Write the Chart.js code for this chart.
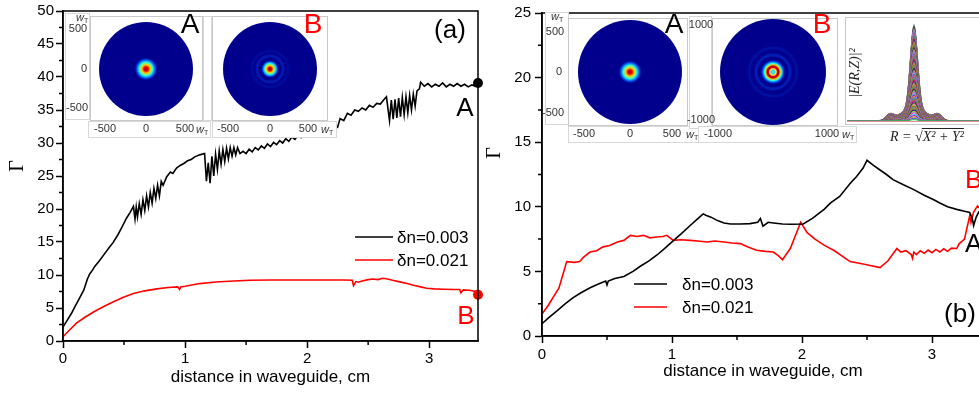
<!DOCTYPE html>
<html>
<head>
<meta charset="utf-8">
<title>Gamma vs distance in waveguide</title>
<script src="https://cdn.jsdelivr.net/npm/chart.js@4.4.1/dist/chart.umd.min.js"></script>
<style>
  html, body { margin: 0; padding: 0; background: #fff; }
  body { width: 979px; height: 393px; overflow: hidden; position: relative; }
  #panelA { position: absolute; left: 0; top: 0; }
  #panelB { position: absolute; left: 484px; top: 0; }
</style>
</head>
<body>
<canvas id="panelA" width="484" height="393"></canvas>
<canvas id="panelB" width="520" height="393"></canvas>
<script>
"use strict";

// Series labels and ticks
var seriesLabels = ["δn=0.003", "δn=0.021"];
var xTicks = [0, 1, 2, 3];
var xMinor = [0.5, 1.5, 2.5];
var yTicksA = [0, 5, 10, 15, 20, 25, 30, 35, 40, 45, 50];
var yMinorA = [2.5, 7.5, 12.5, 17.5, 22.5, 27.5, 32.5, 37.5, 42.5, 47.5];
var yTicksB = [0, 5, 10, 15, 20, 25];
var yMinorB = [2.5, 7.5, 12.5, 17.5, 22.5];

// Panel (a), dn = 0.003
var distA1 = [0, 0.03, 0.07, 0.10, 0.13, 0.17, 0.20, 0.22, 0.24, 0.26, 0.30, 0.34, 0.38, 0.41, 0.45, 0.49, 0.52, 0.55, 0.577, 0.59,
  0.60, 0.61, 0.625, 0.64, 0.655, 0.67, 0.685, 0.70, 0.715, 0.73, 0.745, 0.76, 0.775, 0.79, 0.805, 0.82,
  0.85, 0.88, 0.90, 0.93, 0.96, 0.99, 1.02, 1.05, 1.08, 1.12, 1.16,
  1.175, 1.19, 1.205, 1.22, 1.235, 1.25, 1.265, 1.28, 1.295, 1.31, 1.325, 1.34, 1.355, 1.37, 1.385, 1.40, 1.415, 1.43, 1.45,
  1.475, 1.50, 1.525, 1.55, 1.575, 1.60, 1.625, 1.65, 1.675, 1.70, 1.725, 1.75, 1.775, 1.80, 1.825, 1.85,
  1.875, 1.90, 1.925, 1.95, 1.975, 2.00, 2.025, 2.05, 2.075, 2.10, 2.125, 2.15, 2.175, 2.20, 2.225, 2.25,
  2.27, 2.30, 2.33, 2.36, 2.39, 2.42, 2.45, 2.48, 2.51, 2.54, 2.57, 2.60, 2.63, 2.65,
  2.675, 2.69, 2.705, 2.72, 2.735, 2.75, 2.765, 2.78, 2.795, 2.81, 2.825, 2.84, 2.855, 2.87, 2.885, 2.90, 2.92, 2.93,
  2.96, 2.99, 3.02, 3.05, 3.08, 3.11, 3.14, 3.17, 3.20, 3.23, 3.26, 3.29, 3.32, 3.35, 3.38, 3.40];
var gammaA1 = [2.1, 3.0, 4.2, 5.3, 6.3, 7.7, 9.4, 10.2, 10.7, 11.3, 12.2, 13.2, 14.2, 14.9, 16.1, 17.5, 18.6, 19.5, 20.4, 18.5,
  20.3, 18.8, 20.8, 19.2, 21.4, 19.8, 22.0, 20.3, 22.5, 20.9, 23.1, 21.6, 23.6, 22.0, 24.2, 23.6,
  24.9, 25.6, 25.4, 26.2, 26.6, 26.9, 27.3, 27.5, 27.9, 28.2, 28.4,
  24.2, 27.0, 23.9, 28.0, 25.0, 28.3, 26.0, 28.8, 26.8, 29.0, 27.2, 29.2, 27.6, 29.3, 28.0, 29.3, 28.2, 29.3, 28.4,
  28.75, 28.4, 29.05, 28.65, 29.3, 28.95, 29.55, 29.2, 29.85, 29.45, 30.1, 29.75, 30.35, 30.0, 30.65, 30.25,
  30.9, 30.55, 31.15, 30.8, 31.45, 31.05, 31.7, 31.35, 31.95, 31.6, 32.25, 31.85, 32.5, 32.15, 32.75, 32.4,
  33.7, 33.4, 34.5, 34.2, 35.0, 34.8, 35.3, 35.0, 35.7, 35.4, 36.0, 35.9, 36.6, 37.0,
  33.4, 36.5, 33.6, 36.6, 33.8, 36.8, 34.0, 36.9, 34.3, 37.0, 34.6, 37.2, 35.0, 37.4, 35.6, 37.9, 38.2, 39.2,
  38.6, 39.0, 38.5, 38.9, 38.6, 39.1, 38.5, 38.9, 38.6, 39.0, 38.6, 38.9, 38.5, 38.8, 38.6, 39.1];

// Panel (a), dn = 0.021
var distA2 = [0, 0.05, 0.11, 0.18, 0.25, 0.33, 0.41, 0.49, 0.577, 0.67, 0.77, 0.86, 0.94, 0.955, 0.965, 1.0, 1.12, 1.25, 1.4, 1.53,
  1.7, 1.9, 2.1, 2.3, 2.37, 2.38, 2.40, 2.42, 2.45, 2.50, 2.54, 2.58, 2.62, 2.66, 2.70, 2.75, 2.82, 2.88, 2.93, 2.98,
  3.04, 3.12, 3.20, 3.25, 3.26, 3.28, 3.33, 3.38, 3.40];
var gammaA2 = [0.65, 1.6, 2.7, 3.6, 4.4, 5.2, 5.9, 6.6, 7.2, 7.6, 7.9, 8.1, 8.2, 7.8, 8.2, 8.3, 8.7, 8.95, 9.1, 9.2,
  9.25, 9.25, 9.25, 9.25, 9.2, 8.4, 9.0, 8.9, 9.1, 9.3, 9.4, 9.3, 9.5, 9.4, 9.2, 9.0, 8.7, 8.4, 8.2, 8.0,
  7.9, 7.85, 7.8, 7.8, 7.3, 7.75, 7.7, 7.5, 7.0];

// Panel (b), dn = 0.003
var distB1 = [0, 0.05, 0.115, 0.18, 0.24, 0.30, 0.37, 0.43, 0.49, 0.50, 0.51, 0.56, 0.63, 0.70, 0.756, 0.82, 0.885, 0.94, 1.0, 1.07,
  1.14, 1.19, 1.24, 1.26, 1.30, 1.35, 1.40, 1.45, 1.53, 1.60, 1.66, 1.68, 1.70, 1.74, 1.78, 1.85, 1.92, 2.01, 2.08, 2.17,
  2.22, 2.29, 2.37, 2.42, 2.47, 2.50, 2.55, 2.60, 2.65, 2.70, 2.78, 2.86, 2.94, 3.01, 3.06, 3.12, 3.19, 3.25, 3.29, 3.31,
  3.32, 3.34, 3.36, 3.40];
var gammaB1 = [0.95, 1.4, 1.95, 2.5, 2.97, 3.35, 3.73, 4.0, 4.25, 3.95, 4.25, 4.45, 4.6, 5.0, 5.4, 5.8, 6.27, 6.75, 7.28, 7.9,
  8.55, 9.0, 9.45, 9.35, 9.2, 8.93, 8.75, 8.67, 8.67, 8.7, 8.8, 9.1, 8.5, 8.8, 8.75, 8.67, 8.65, 8.67, 9.1, 9.8,
  10.3, 10.8, 11.8, 12.35, 13.0, 13.6, 13.2, 12.85, 12.5, 12.1, 11.7, 11.33, 10.9, 10.57, 10.3, 10.0, 9.8, 9.65, 9.56, 9.1,
  8.55, 9.2, 9.6, 9.8];

// Panel (b), dn = 0.021
var distB2 = [0, 0.05, 0.115, 0.13, 0.19, 0.25, 0.29, 0.32, 0.37, 0.42, 0.47, 0.52, 0.58, 0.63, 0.68, 0.73, 0.78, 0.83, 0.88, 0.93,
  0.96, 1.01, 1.07, 1.14, 1.2, 1.27, 1.33, 1.4, 1.46, 1.525, 1.58, 1.65, 1.72, 1.78, 1.82, 1.85, 1.91, 1.99, 2.04, 2.10,
  2.17, 2.25, 2.37, 2.48, 2.60, 2.66, 2.73, 2.76, 2.80, 2.84, 2.85, 2.86, 2.88, 2.91, 2.94, 2.97, 3.00, 3.03, 3.06, 3.09,
  3.12, 3.15, 3.19, 3.21, 3.25, 3.29, 3.30, 3.32, 3.35, 3.38, 3.40];
var gammaB2 = [1.7, 2.4, 3.47, 3.7, 5.76, 5.7, 5.76, 6.1, 6.5, 6.6, 6.9, 7.0, 7.28, 7.4, 7.79, 7.7, 7.79, 7.6, 7.66, 7.7,
  7.79, 7.4, 7.45, 7.4, 7.35, 7.28, 7.35, 7.28, 7.2, 7.15, 6.9, 6.64, 6.55, 6.5, 6.2, 5.9, 6.77, 8.8, 8.0, 7.5,
  7.03, 6.6, 5.76, 5.55, 5.3, 5.8, 6.77, 6.5, 6.6, 6.3, 6.0, 6.5, 6.3, 6.6, 6.4, 6.65, 6.45, 6.7, 6.5, 6.75,
  6.55, 6.8, 6.77, 7.15, 7.5, 9.3, 8.8, 9.6, 10.07, 9.8, 10.2];

Chart.defaults.font.family = '"Liberation Sans", Arial, sans-serif';
Chart.defaults.color = "#000";

function toPoints(xs, ys) {
  return xs.map(function (x, i) { return { x: x, y: ys[i] }; });
}

var SANS = '"Liberation Sans", Arial, sans-serif';
var SERIF = '"Liberation Serif", "Times New Roman", serif';

// subscripted w_T label used in the insets
function wT(ctx, x, y) {
  ctx.textAlign = "left";
  ctx.font = "italic 11px " + SANS;
  ctx.fillText("w", x - 6, y);
  ctx.font = "7px " + SANS;
  ctx.fillText("T", x + 2, y + 3);
}

// jet-like intensity disk
var DISK_STOPS = {
  a: [12, [[0, "#8a0000"], [0.18, "#f00000"], [0.36, "#ffd200"], [0.55, "#30ffd0"], [0.75, "#0060ff"], [1, "rgba(0,0,140,0)"]]],
  b: [9, [[0, "#8a0000"], [0.2, "#f00000"], [0.4, "#ffd200"], [0.6, "#30ffd0"], [0.8, "#0060ff"], [1, "rgba(0,0,140,0)"]]],
  c: [13, [[0, "#70f0ff"], [0.14, "#20c8ff"], [0.24, "#ffff40"], [0.34, "#e00000"], [0.46, "#b00000"], [0.55, "#ffc000"],
           [0.66, "#30ffd0"], [0.8, "#0050ff"], [1, "rgba(0,0,140,0)"]]]
};

function drawDisk(ctx, cx, cy, r, kind) {
  ctx.save();
  ctx.beginPath();
  ctx.arc(cx, cy, r, 0, Math.PI * 2);
  ctx.fillStyle = "#00008c";
  ctx.fill();
  ctx.clip();
  if (kind !== "a") {
    // faint outer rings
    var rings = kind === "c" ? [[17, 0.35], [24, 0.16]] : [[13, 0.3], [18, 0.12]];
    rings.forEach(function (rg) {
      ctx.beginPath();
      ctx.arc(cx, cy, rg[0], 0, Math.PI * 2);
      ctx.strokeStyle = "rgba(0,80,255," + rg[1] + ")";
      ctx.lineWidth = 3;
      ctx.stroke();
    });
  }
  var d = DISK_STOPS[kind];
  var g = ctx.createRadialGradient(cx, cy, 0, cx, cy, d[0]);
  d[1].forEach(function (s) { g.addColorStop(s[0], s[1]); });
  ctx.fillStyle = g;
  ctx.beginPath();
  ctx.arc(cx, cy, d[0], 0, Math.PI * 2);
  ctx.fill();
  ctx.restore();
}

function drawInset(ctx, p) {
  ctx.lineWidth = 1;
  ctx.strokeStyle = "#d8d8d8";
  ctx.fillStyle = "#fff";
  p.boxes.forEach(function (b) {
    ctx.fillRect(b[0], b[1], b[2], b[3]);
    ctx.strokeRect(b[0] + 0.5, b[1] + 0.5, b[2], b[3]);
  });
  var f = p.frame;
  ctx.fillStyle = "#fff";
  ctx.fillRect(f[0], f[1], f[2] - f[0], f[3] - f[1]);
  ctx.strokeStyle = "#c8c8c8";
  ctx.strokeRect(f[0] + 0.5, f[1] + 0.5, f[2] - f[0], f[3] - f[1]);
  if (p.disk) drawDisk(ctx, p.disk[0], p.disk[1], p.disk[2], p.kind);
  ctx.fillStyle = "#333";
  ctx.textBaseline = "middle";
  p.labels.forEach(function (l) {
    ctx.textAlign = "center";
    ctx.font = "11px " + SANS;
    ctx.fillText(l[0], l[1], l[2]);
  });
  p.wt.forEach(function (w) { wT(ctx, w[0], w[1]); });
}

// radial profile inset, drawn as a picture
var PROFILE_COLS = ["#e6194b", "#3cb44b", "#4363d8", "#f58231", "#911eb4", "#42d4f4", "#f032e6", "#9acd32",
  "#000075", "#9a6324", "#469990", "#808000", "#ff7f50", "#2e8b57", "#8b008b"];

function drawProfile(ctx, p) {
  var hBox = p.base + 3 - p.y0;
  ctx.fillStyle = "#fff";
  ctx.fillRect(p.x0, p.y0, p.x1 - p.x0, hBox);
  ctx.strokeStyle = "#c8c8c8";
  ctx.lineWidth = 1;
  ctx.strokeRect(p.x0 + 0.5, p.y0 + 0.5, p.x1 - p.x0, hBox);
  ctx.save();
  ctx.beginPath();
  ctx.rect(p.x0 + 2, p.y0, p.x1 - p.x0, hBox - 2);
  ctx.clip();
  ctx.lineWidth = 1.1;
  for (var k = 70; k >= 1; k--) {
    var h = p.h * k / 70;
    ctx.beginPath();
    for (var dx = -80; dx <= 80; dx++) {
      var ad = Math.abs(dx);
      var f = 0.82 * Math.exp(-Math.pow(ad / 5, 2)) + 0.12 * Math.exp(-Math.pow(ad / 19, 2)) +
              0.05 * Math.exp(-Math.pow((ad - 24) / 5, 2));
      var py = p.base - h * f;
      if (dx === -80) ctx.moveTo(p.cx + dx, py); else ctx.lineTo(p.cx + dx, py);
    }
    ctx.strokeStyle = PROFILE_COLS[k % PROFILE_COLS.length];
    ctx.stroke();
  }
  ctx.strokeStyle = "#e09090";
  ctx.beginPath();
  ctx.moveTo(p.x0 + 2, p.base + 0.5);
  ctx.lineTo(p.x1, p.base + 0.5);
  ctx.stroke();
  ctx.restore();
  // |E(R,Z)|^2
  ctx.save();
  ctx.translate(p.yl[0], p.yl[1]);
  ctx.rotate(-Math.PI / 2);
  ctx.fillStyle = "#222";
  ctx.textAlign = "center";
  ctx.textBaseline = "middle";
  ctx.font = "italic 14px " + SERIF;
  ctx.fillText("|E(R,Z)|²", 0, 0);
  ctx.restore();
  // R = sqrt(X^2 + Y^2)
  ctx.fillStyle = "#222";
  ctx.font = "italic 14px " + SERIF;
  ctx.textAlign = "left";
  ctx.textBaseline = "middle";
  var head = "R = √", rad = "X² + Y²";
  var w1 = ctx.measureText(head).width, w2 = ctx.measureText(rad).width;
  var sx = p.xl[0] - (w1 + w2) / 2;
  ctx.fillText(head, sx, p.xl[1]);
  ctx.fillText(rad, sx + w1, p.xl[1]);
  ctx.strokeStyle = "#222";
  ctx.lineWidth = 1;
  ctx.beginPath();
  ctx.moveTo(sx + w1 - 1, p.xl[1] - 8.5);
  ctx.lineTo(sx + w1 + w2, p.xl[1] - 8.5);
  ctx.stroke();
}

// frame, minor ticks, insets, labels and legend
var decorPlugin = {
  id: "decor",
  afterDatasetsDraw: function (chart, args, o) {
    var ctx = chart.ctx, a = chart.chartArea, sx = chart.scales.x, sy = chart.scales.y;
    ctx.save();
    ctx.strokeStyle = "#000";
    ctx.lineWidth = 1.5;
    ctx.strokeRect(a.left, a.top, a.right - a.left, a.bottom - a.top);
    ctx.beginPath();
    o.xMinor.forEach(function (v) {
      var px = sx.getPixelForValue(v);
      ctx.moveTo(px, a.bottom);
      ctx.lineTo(px, a.bottom + 4);
    });
    o.yMinor.forEach(function (v) {
      var py = sy.getPixelForValue(v);
      ctx.moveTo(a.left, py);
      ctx.lineTo(a.left - 4, py);
    });
    ctx.stroke();

    o.insets.forEach(function (p) { drawInset(ctx, p); });
    if (o.profile) drawProfile(ctx, o.profile);

    ctx.textBaseline = "middle";
    o.texts.forEach(function (t) {
      ctx.font = t.font;
      ctx.fillStyle = t.color;
      ctx.textAlign = t.align || "center";
      ctx.fillText(t.text, t.x, t.y);
    });

    // y axis title
    ctx.save();
    ctx.translate(o.gamma[0], o.gamma[1]);
    ctx.rotate(-Math.PI / 2);
    ctx.font = "20px " + SERIF;
    ctx.fillStyle = "#000";
    ctx.textAlign = "center";
    ctx.fillText("Γ", 0, 0);
    ctx.restore();

    // legend
    var L = o.legend;
    chart.data.datasets.forEach(function (ds, i) {
      var y = L.y + i * L.row;
      ctx.strokeStyle = ds.borderColor;
      ctx.lineWidth = 1.5;
      ctx.beginPath();
      ctx.moveTo(L.x, y);
      ctx.lineTo(L.x + L.len, y);
      ctx.stroke();
      ctx.fillStyle = "#000";
      ctx.font = "17px " + SANS;
      ctx.textAlign = "left";
      ctx.fillText(ds.label, L.x + L.len + L.gap, y + 1);
    });
    ctx.restore();
  }
};

function lastDot(c) {
  return c.dataIndex === c.dataset.data.length - 1 ? 5 : 0;
}

function makeChart(id, p) {
  return new Chart(document.getElementById(id), {
    type: "scatter",
    data: {
      datasets: [{
        label: seriesLabels[0],
        data: toPoints(p.x1, p.y1),
        showLine: true,
        borderColor: "#000",
        backgroundColor: "#000",
        borderWidth: 1.6,
        pointRadius: p.dots ? lastDot : 0,
        pointBorderWidth: 0,
        clip: false
      }, {
        label: seriesLabels[1],
        data: toPoints(p.x2, p.y2),
        showLine: true,
        borderColor: "#ff0000",
        backgroundColor: "#ff0000",
        borderWidth: 1.6,
        pointRadius: p.dots ? lastDot : 0,
        pointBorderWidth: 0,
        clip: false
      }]
    },
    options: {
      responsive: false,
      animation: false,
      events: [],
      layout: { padding: p.pad },
      plugins: {
        legend: { display: false },
        tooltip: { enabled: false },
        decor: p.decor
      },
      scales: {
        x: {
          type: "linear",
          min: 0,
          max: 3.4,
          afterBuildTicks: function (s) { s.ticks = xTicks.map(function (v) { return { value: v }; }); },
          afterFit: function (s) { s.height = p.xh; },
          grid: { drawOnChartArea: false, tickLength: 7, tickColor: "#000", tickWidth: 1.5 },
          border: { color: "#000", width: 1.5 },
          ticks: { font: { size: 15 }, color: "#000", padding: p.xpad, maxRotation: 0 },
          title: { display: true, text: "distance in waveguide, cm", color: "#000",
                   font: { size: 17 }, padding: { top: 0, bottom: p.xtitle } }
        },
        y: {
          type: "linear",
          min: 0,
          max: p.ymax,
          afterBuildTicks: function (s) { s.ticks = p.yt.map(function (v) { return { value: v }; }); },
          afterFit: function (s) { s.width = p.yw; },
          grid: { drawOnChartArea: false, tickLength: 7, tickColor: "#000", tickWidth: 1.5 },
          border: { color: "#000", width: 1.5 },
          ticks: { font: { size: 15 }, color: "#000", padding: p.ypad }
        }
      }
    },
    plugins: [decorPlugin]
  });
}

// Panel (a)
makeChart("panelA", {
  x1: distA1, y1: gammaA1, x2: distA2, y2: gammaA2, dots: true,
  ymax: 50, yt: yTicksA, yw: 63, xh: 52, xpad: 2, ypad: 2, xtitle: 5,
  pad: { left: 0, right: 6, top: 8, bottom: 0 },
  decor: {
    xMinor: xMinor, yMinor: yMinorA,
    gamma: [18, 166],
    legend: { x: 355, y: 237, row: 23, len: 38, gap: 4 },
    insets: [{
      boxes: [[65, 13, 24, 106], [88, 121, 122, 16]],
      frame: [90, 16, 202, 120], disk: [146, 69, 47], kind: "a",
      labels: [["500", 78, 29], ["0", 84, 69], ["-500", 77, 108], ["-500", 105, 129], ["0", 146, 129], ["500", 185, 129]],
      wt: [[82, 18], [202, 130]]
    }, {
      boxes: [[203, 16, 8, 104], [212, 121, 124, 16]],
      frame: [212, 16, 327, 120], disk: [270, 69, 47], kind: "b",
      labels: [["-500", 228, 129], ["0", 270, 129], ["500", 308, 129]],
      wt: [[327, 130]]
    }],
    texts: [
      { text: "A", x: 190, y: 25, font: "28px " + SANS, color: "#000" },
      { text: "B", x: 313, y: 25, font: "28px " + SANS, color: "#ff0000" },
      { text: "(a)", x: 450, y: 31, font: "26px " + SANS, color: "#000" },
      { text: "A", x: 465, y: 109, font: "26px " + SANS, color: "#000" },
      { text: "B", x: 466, y: 317, font: "26px " + SANS, color: "#ff0000" }
    ]
  }
});

// Panel (b), canvas starts at x = 484
makeChart("panelB", {
  x1: distB1, y1: gammaB1, x2: distB2, y2: gammaB2, dots: false,
  ymax: 25, yt: yTicksB, yw: 58, xh: 57, xpad: 3, ypad: 4, xtitle: 11,
  pad: { left: 0, right: 20, top: 7, bottom: 0 },
  decor: {
    xMinor: xMinor, yMinor: yMinorB,
    gamma: [11, 153],
    legend: { x: 150, y: 284, row: 23, len: 33, gap: 15 },
    insets: [{
      boxes: [[61, 12, 23, 112], [84, 126, 130, 16]],
      frame: [84, 18, 203, 125], disk: [146, 72, 52], kind: "a",
      labels: [["500", 71, 32], ["0", 75, 72], ["-500", 69, 113], ["-500", 100, 134], ["0", 146, 134], ["500", 188, 134]],
      wt: [[73, 17], [208, 135]]
    }, {
      boxes: [[205, 16, 22, 112], [214, 126, 158, 16]],
      frame: [228, 18, 353, 125], disk: [289, 72, 53], kind: "c",
      labels: [["1000", 217, 25], ["-1000", 217, 120], ["-1000", 234, 134], ["1000", 343, 134]],
      wt: [[364, 135]]
    }],
    profile: { x0: 361, y0: 17, x1: 530, base: 121, cx: 430, h: 102, yl: [371, 73], xl: [443, 137] },
    texts: [
      { text: "A", x: 190, y: 25, font: "28px " + SANS, color: "#000" },
      { text: "B", x: 338, y: 25, font: "28px " + SANS, color: "#ff0000" },
      { text: "(b)", x: 476, y: 315, font: "26px " + SANS, color: "#000" },
      { text: "A", x: 481, y: 245, font: "26px " + SANS, color: "#000", align: "left" },
      { text: "B", x: 481, y: 181, font: "26px " + SANS, color: "#ff0000", align: "left" }
    ]
  }
});
</script>
</body>
</html>
